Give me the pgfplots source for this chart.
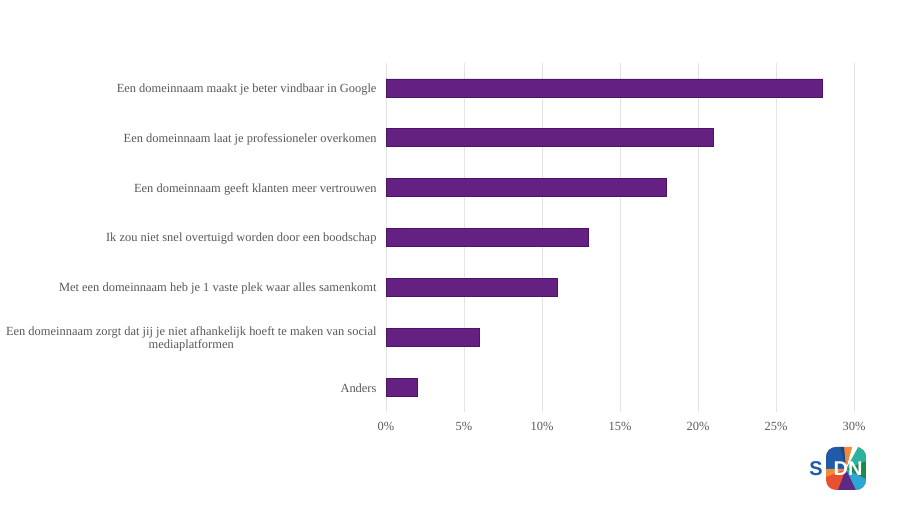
\documentclass[border=0pt]{standalone}
\usepackage{pgfplots}
\pgfplotsset{compat=1.18}
\usepackage{fontspec}
\setmainfont{Liberation Serif}
\setsansfont{Liberation Sans}
\definecolor{barfill}{HTML}{652181}
\definecolor{baredge}{HTML}{4B1466}
\definecolor{txt}{HTML}{595959}
\definecolor{grd}{HTML}{E3E3E3}
\definecolor{lblue}{HTML}{1F5BA8}
\definecolor{lred}{HTML}{E8502F}
\definecolor{lorange}{HTML}{F08A3C}
\definecolor{lpurple}{HTML}{5B2A86}
\definecolor{lcyan}{HTML}{2AA7D6}
\definecolor{lgreen}{HTML}{1E8A4A}
\definecolor{lteal}{HTML}{2BB3A0}
\begin{document}
\begin{tikzpicture}[x=1bp,y=1bp]
\path[fill=white] (0,0) rectangle (900,507);
\begin{axis}[
  at={(386bp,95bp)}, anchor=south west,
  scale only axis, width=468bp, height=349bp,
  xmin=0, xmax=30, ymin=-0.5, ymax=6.5, y dir=reverse,
  xtick={0,5,...,30},
  xticklabel={\pgfmathprintnumber{\tick}\%},
  ytick={0,...,6},
  yticklabels={Een domeinnaam maakt je beter vindbaar in Google,
    Een domeinnaam laat je professioneler overkomen,
    Een domeinnaam geeft klanten meer vertrouwen,
    Ik zou niet snel overtuigd worden door een boodschap,
    Met een domeinnaam heb je 1 vaste plek waar alles samenkomt,
    {Een domeinnaam zorgt dat jij je niet afhankelijk hoeft te maken van social\\mediaplatformen},
    Anders},
  axis line style={draw=none},
  major tick length=0pt,
  xmajorgrids, grid style={grd, line width=0.8pt},
  /pgf/number format/assume math mode=true,
  ticklabel style={font=\fontsize{12.5}{13.5}\selectfont, text=txt},
  yticklabel style={align=center, xshift=-6bp, yshift=-1.5bp},
  xticklabel style={yshift=-7bp},
  clip=false,
]
\addplot[xbar, bar width=18bp, fill=barfill, draw=baredge, line width=0.8pt]
  coordinates {(28,0) (21,1) (18,2) (13,3) (11,4) (6,5) (2,6)};
\end{axis}
% SIDN logo (decorative)
\begin{scope}
  \clip[rounded corners=10bp] (826,17) rectangle (866,60);
  \fill[lred] (826,17) rectangle (866,60);
  \fill[lblue] (846,38) -- (826,38) -- (826,60) -- (840,60) -- cycle;
  \fill[lorange] (846,38) -- (826,30) -- (826,38) -- cycle;
  \fill[lpurple] (846,38) -- (838,17) -- (856,17) -- cycle;
  \fill[lcyan] (846,38) -- (856,17) -- (866,17) -- (866,28) -- cycle;
  \fill[lgreen] (846,38) -- (866,28) -- (866,46) -- cycle;
  \fill[lteal] (846,38) -- (866,46) -- (866,60) -- (858,60) -- cycle;
  \fill[white] (846,38) -- (858,60) -- (852,60) -- cycle;
  \fill[lorange] (846,38) -- (852,60) -- (844,60) -- cycle;
  \fill[lblue!80!black] (846,38) -- (844,60) -- (840,60) -- cycle;
\end{scope}
\node[font=\sffamily\bfseries\fontsize{20}{20}\selectfont, text=lblue] at (816,38) {S};
\node[font=\sffamily\bfseries\fontsize{20}{20}\selectfont, text=white] at (848,38) {DN};
\end{tikzpicture}
\end{document}
